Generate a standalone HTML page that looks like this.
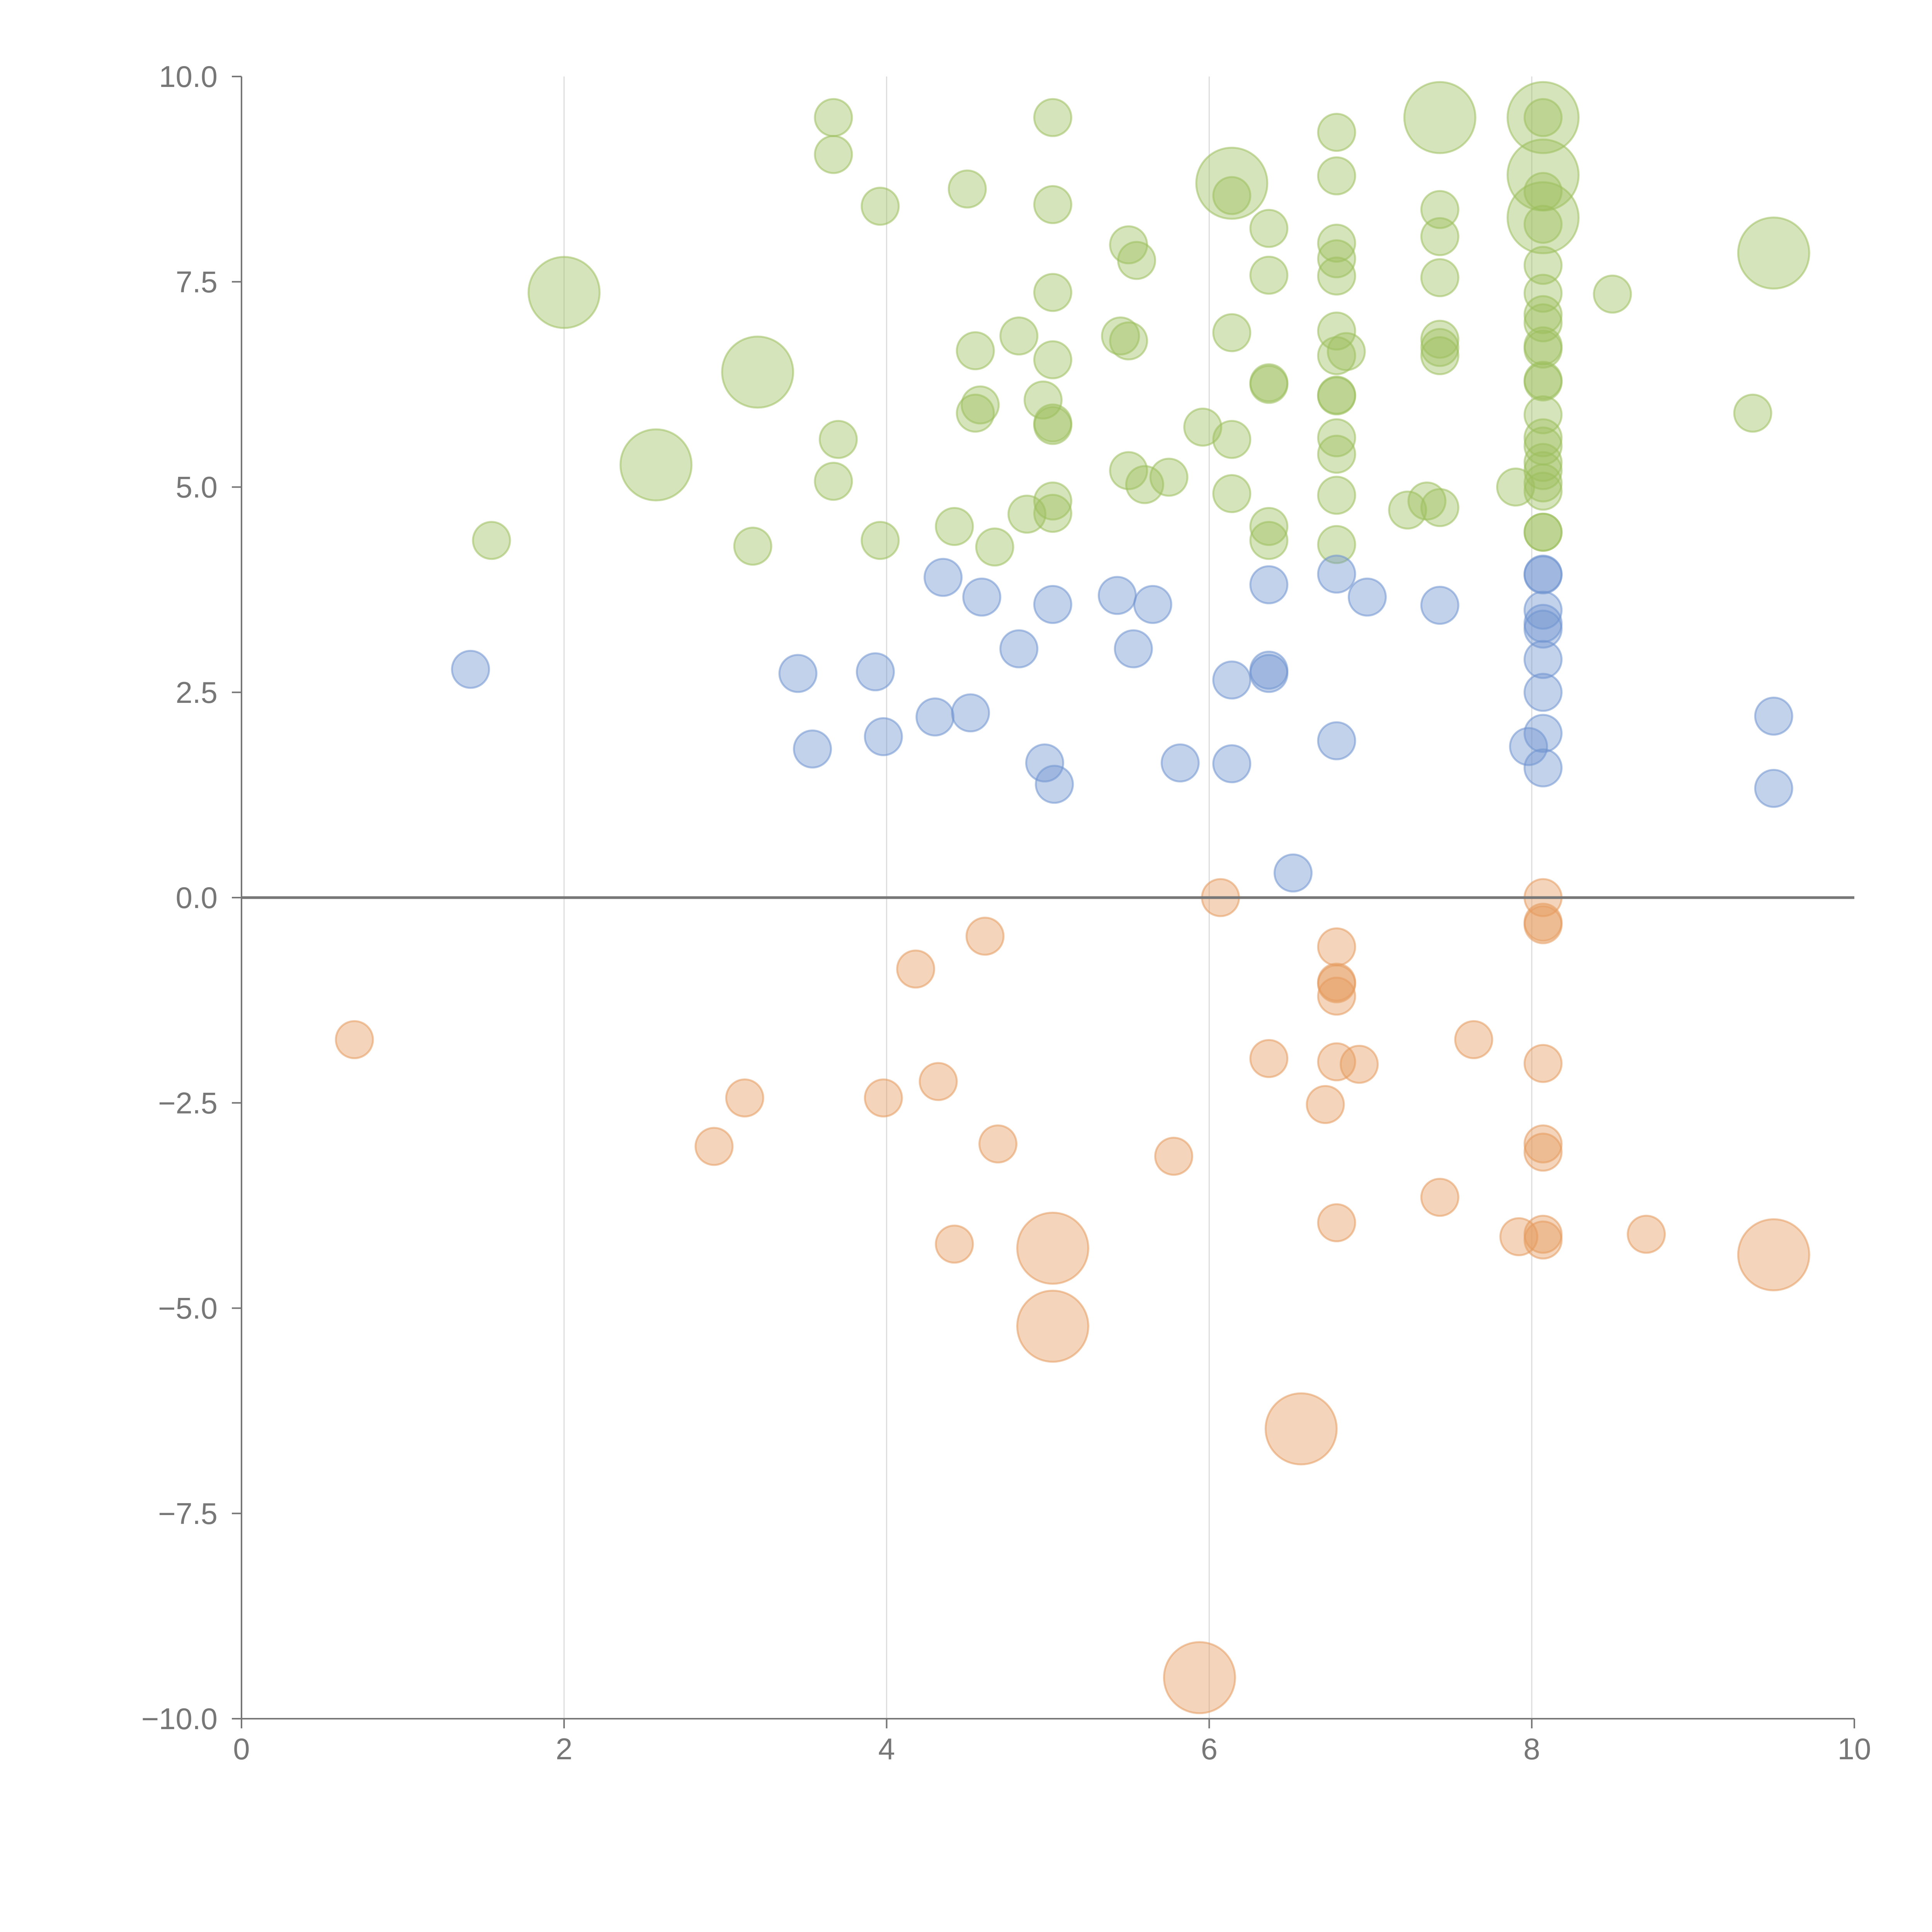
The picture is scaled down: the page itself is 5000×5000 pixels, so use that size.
<!DOCTYPE html>
<html><head><meta charset="utf-8"><style>
html,body{margin:0;padding:0;background:#fff;}
svg{display:block;font-family:"Liberation Sans",sans-serif;}
</style></head><body>
<svg id="chart" width="5000" height="5000" viewBox="0 0 5000 5000" xmlns="http://www.w3.org/2000/svg"></svg>
<script>
const xTicks=[0,2,4,6,8,10];
const yTicks=[10,7.5,5,2.5,0,-2.5,-5,-7.5,-10];
const greenX=[3.67,3.67,5.03,4.5,3.96,5.03,5.5,5.55,5.03,4.55,4.82,5.03,5.45,5.5,4.58,4.55,4.97,5.03,5.03,3.7,3.67,5.03,5.03,4.87,4.42,4.67,3.96,3.17,1.55,5.5,5.6,5.75,5.96,6.14,6.14,6.14,6.37,6.37,6.37,6.37,6.14,6.37,6.37,6.79,6.79,6.79,6.79,6.79,6.79,6.79,6.85,6.79,6.79,6.79,6.79,6.79,6.79,7.43,7.43,7.43,7.43,7.43,7.43,7.43,7.35,7.23,7.9,8.5,9.37,8.07,8.07,8.07,8.07,8.07,8.07,8.07,8.07,8.07,8.07,8.07,8.07,8.07,8.07,8.07,8.07,8.07,8.07,8.07,8.07];
const greenY=[9.5,9.05,9.5,8.63,8.42,8.44,7.95,7.76,7.37,6.66,6.84,6.55,6.84,6.78,6.0,5.9,6.06,5.75,5.78,5.58,5.07,4.83,4.68,4.67,4.52,4.27,4.35,4.28,4.35,5.2,5.03,5.12,5.73,5.58,4.92,6.88,6.27,6.25,7.58,8.15,8.55,4.52,4.35,9.32,8.79,7.97,7.78,7.57,6.9,6.6,6.65,6.11,6.12,5.6,5.4,4.9,4.3,8.38,8.05,7.55,6.8,6.7,6.6,4.75,4.83,4.72,5.0,7.35,5.9,9.5,8.6,8.2,7.7,7.36,7.1,7.0,6.72,6.68,6.3,6.28,5.88,5.6,5.5,5.3,5.2,5.05,4.95,4.45,4.45];
const greenBigX=[2.0,3.2,2.57,6.14,7.43,8.07,8.07,8.07,9.5];
const greenBigY=[7.37,6.4,5.27,8.7,9.5,9.5,8.8,8.28,7.85];
const blueX=[1.42,3.45,3.54,3.93,3.98,4.3,4.52,4.35,4.59,4.82,5.03,4.98,5.04,5.43,5.53,5.65,5.82,6.14,6.14,6.37,6.37,6.37,6.52,6.79,6.79,6.98,7.43,7.98,8.07,8.07,8.07,8.07,8.07,8.07,8.07,8.07,8.07,9.5,9.5];
const blueY=[2.78,2.73,1.81,2.75,1.96,2.2,2.25,3.9,3.66,3.03,3.57,1.64,1.38,3.68,3.03,3.57,1.64,2.65,1.63,3.81,2.77,2.73,0.3,3.94,1.91,3.66,3.56,1.84,3.94,3.93,3.5,3.34,3.27,2.9,2.5,2.0,1.58,2.21,1.33];
const orangeX=[0.7,2.93,3.12,3.98,4.18,4.32,4.42,4.61,4.69,5.78,6.07,6.37,6.72,6.79,6.79,6.79,6.79,6.79,6.93,6.79,7.43,7.64,7.92,8.07,8.07,8.07,8.07,8.07,8.07,8.07,8.07,8.71];
const orangeY=[-1.73,-3.03,-2.44,-2.44,-0.87,-2.24,-4.22,-0.47,-3.0,-3.15,0.0,-1.96,-2.52,-0.6,-1.03,-1.05,-1.2,-2.0,-2.03,-3.96,-3.65,-1.73,-4.13,0.0,-0.3,-0.33,-2.02,-3.0,-3.1,-4.1,-4.17,-4.1];
const orangeBigX=[5.03,5.03,5.94,6.57,9.5];
const orangeBigY=[-4.27,-5.22,-9.5,-6.47,-4.35];

const NS="http://www.w3.org/2000/svg";
const svg=document.getElementById('chart');
const X0=625,X1=4799,Y0=4448,Y1=198;
const sx=v=>X0+(v-0)/(10-0)*(X1-X0);
const sy=v=>Y0-(v+10)/20*(Y0-Y1);
function mk(tag,attrs,parent){const e=document.createElementNS(NS,tag);for(const k in attrs)e.setAttribute(k,attrs[k]);(parent||svg).appendChild(e);return e;}

const grid=mk('g',{});


[2,4,6,8].forEach(t=>{const l=mk('line',{x1:sx(t),x2:sx(t),y1:Y1,y2:Y0,stroke:'#dddddd','stroke-width':3},grid);

});

function series(xs,ys,r,color,name){
  const g=mk('g',{});
  
  
  xs.forEach((x,i)=>{
    const c=mk('circle',{cx:sx(x),cy:sy(ys[i]),r:r,fill:color,'fill-opacity':0.42,stroke:color,'stroke-opacity':0.55,'stroke-width':5},g);
    
    
  });
}
series(greenX,greenY,48,'#9dbf5e','green');
series(greenBigX,greenBigY,92,'#9dbf5e','green-large');
series(blueX,blueY,48,'#6f93cf','blue');
series(orangeX,orangeY,48,'#e59a5e','orange');
series(orangeBigX,orangeBigY,92,'#e59a5e','orange-large');

const zl=mk('line',{x1:X0,x2:X1,y1:sy(0),y2:sy(0),stroke:'#777','stroke-width':7});



const ax=mk('g',{});


mk('line',{x1:X0,x2:X1,y1:Y0,y2:Y0,stroke:'#777','stroke-width':4},ax);
xTicks.forEach(t=>{mk('line',{x1:sx(t),x2:sx(t),y1:Y0,y2:Y0+25,stroke:'#777','stroke-width':4},ax);
const tx=mk('text',{x:sx(t),y:Y0+105,'text-anchor':'middle','font-size':78,fill:'#777'},ax);tx.textContent=t;

});

const ay=mk('g',{});


mk('line',{x1:X0,x2:X0,y1:Y1,y2:Y0,stroke:'#777','stroke-width':4},ay);
yTicks.forEach(t=>{mk('line',{x1:X0-25,x2:X0,y1:sy(t),y2:sy(t),stroke:'#777','stroke-width':4},ay);
const tx=mk('text',{x:X0-62,y:sy(t)+27,'text-anchor':'end','font-size':78,fill:'#777'},ay);tx.textContent=(t<0?'\u2212':'')+Math.abs(t).toFixed(1);

});
</script>
</body></html>
